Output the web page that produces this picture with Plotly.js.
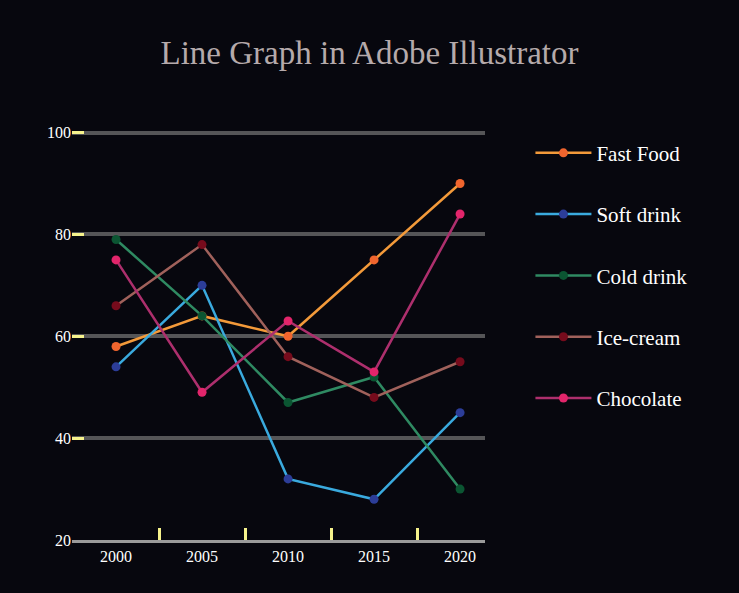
<!DOCTYPE html>
<html>
<head>
<meta charset="utf-8">
<script src="https://cdn.plot.ly/plotly-3.0.1.min.js"></script>
<style>
  html, body { margin: 0; padding: 0; background: #07070e; }
  #plot { width: 739px; height: 593px; }
</style>
</head>
<body>
<div id="plot"></div>
<script>
// Years along the x axis
const years = [2000, 2005, 2010, 2015, 2020];

// Series values
const fastFood  = [58, 64, 60, 75, 90];
const softDrink = [54, 70, 32, 28, 45];
const coldDrink = [79, 64, 47, 52, 30];
const iceCream  = [66, 78, 56, 48, 55];
const chocolate = [75, 49, 63, 53, 84];

const yTicks = [20, 40, 60, 80, 100];
const xMinorTicks = [2002.5, 2007.5, 2012.5, 2017.5];

function series(name, values, lineColor, markerColor) {
    return {
        x: years,
        y: values,
        name: name,
        legendgroup: name,
        mode: 'lines+markers',
        line: {color: lineColor, width: 2.5},
        marker: {color: markerColor, size: 9}
    };
}

let data = [
    series('Fast Food', fastFood, '#f39a3a', '#f0652e'),
    series('Soft drink', softDrink, '#3aaade', '#2c3d98'),
    series('Cold drink', coldDrink, '#2f8a62', '#0b5532'),
    series('Ice-cream', iceCream, '#a0615b', '#760b1c'),
    series('Chocolate', chocolate, '#ad2f6d', '#e2256b')
];

let layout = {
    width: 739,
    height: 593,
    paper_bgcolor: '#07070e',
    plot_bgcolor: '#07070e',
    margin: {l: 72, r: 254, t: 102, b: 53},
    font: {family: '"Liberation Serif", "DejaVu Serif", serif', color: '#ffffff'},
    title: {
        text: 'Line Graph in Adobe Illustrator',
        x: 0.5,
        xref: 'container',
        y: 0.912,
        yanchor: 'middle',
        font: {size: 33, color: '#b5aaab', family: '"Liberation Serif", serif'}
    },
    xaxis: {
        range: [1997.44, 2021.45],
        tickvals: years,
        ticks: '',
        showgrid: false,
        zeroline: false,
        showline: true,
        linecolor: '#9a9a9a',
        linewidth: 3,
        tickfont: {size: 16, color: '#ffffff'},
        minor: {
            tickvals: xMinorTicks,
            ticks: 'inside',
            ticklen: 12,
            tickwidth: 3,
            tickcolor: '#f6f28c',
            showgrid: false
        }
    },
    yaxis: {
        range: [20, 106],
        tickvals: yTicks,
        ticks: 'inside',
        ticklen: 12,
        tickwidth: 3,
        tickcolor: '#f6f28c',
        showgrid: true,
        gridcolor: '#555557',
        gridwidth: 4,
        zeroline: false,
        showline: false,
        tickfont: {size: 16, color: '#ffffff'}
    },
    showlegend: true,
    legend: {
        x: 1.11,
        xanchor: 'left',
        y: 0.93,
        yanchor: 'top',
        bgcolor: 'rgba(0,0,0,0)',
        font: {size: 21, color: '#ffffff'},
        itemwidth: 56,
        tracegroupgap: 31
    }
};

Plotly.newPlot('plot', data, layout, {displayModeBar: false});
</script>
</body>
</html>
